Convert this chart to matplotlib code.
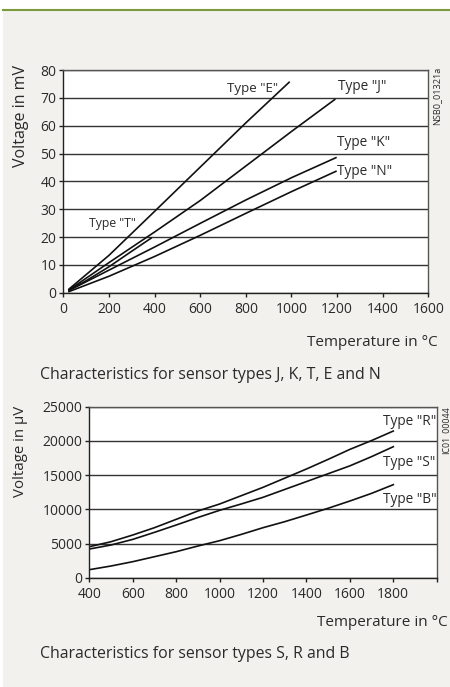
import matplotlib.pyplot as plt
from matplotlib.patches import Rectangle
from matplotlib.lines import Line2D

plt.rcParams['font.family'] = ['Open Sans', 'DejaVu Sans']

# Thermoelement-Kennlinien (Typen J, K, T, E, N) in mV
temp_E = [25, 200, 400, 600, 800, 990]
volt_E = [1.3, 13.4, 29.2, 45.1, 61.0, 75.6]
temp_J = [25, 200, 400, 600, 800, 1000, 1190]
volt_J = [1.0, 10.8, 21.8, 33.1, 45.5, 57.9, 69.4]
temp_K = [25, 200, 400, 600, 800, 1000, 1195]
volt_K = [0.8, 8.1, 16.4, 24.9, 33.3, 41.3, 48.5]
temp_N = [25, 200, 400, 600, 800, 1000, 1195]
volt_N = [0.4, 5.9, 13.0, 20.6, 28.5, 36.3, 43.6]
temp_T = [25, 100, 200, 300, 385]
volt_T = [0.9, 4.3, 9.3, 14.9, 19.6]

# Typen R, S, B in uV
temp_RSB = [400, 500, 600, 700, 800, 900, 1000, 1100, 1200,
            1300, 1400, 1500, 1600, 1700, 1800]
volt_R = [4530, 5260, 6240, 7310, 8530, 9750, 10770, 11990, 13210,
          14550, 15890, 17300, 18760, 20050, 21440]
volt_S = [4190, 4780, 5600, 6630, 7700, 8800, 9850, 10780, 11750,
          12900, 14050, 15200, 16350, 17700, 19150]
volt_B = [1170, 1710, 2340, 3070, 3800, 4630, 5410, 6330, 7310,
          8190, 9160, 10150, 11210, 12330, 13600]

bg = '#f2f1ed'
txt = '#2a2a2a'
W, H = 450, 687

fig = plt.figure(figsize=(4.5, 6.87), dpi=100, facecolor='white')
fig.patches.append(Rectangle((3 / W, 0), 1, 1 - 11 / H, transform=fig.transFigure,
                             facecolor=bg, edgecolor='none', zorder=-10))
fig.lines.append(Line2D([3 / W, 1], [1 - 9.5 / H, 1 - 9.5 / H], transform=fig.transFigure,
                        color='#7b9a3c', lw=1.5, zorder=-5))


def box(l, t, r, b):
    # Pixelkoordinaten -> Figure-Anteile
    return [l / W, 1 - b / H, (r - l) / W, (b - t) / H]


def style(ax):
    ax.set_facecolor('white')
    for s in ax.spines.values():
        s.set_color('#555555')
        s.set_linewidth(1.0)
    ax.spines['left'].set_color('#222222')
    ax.spines['bottom'].set_color('#222222')
    ax.tick_params(direction='out', length=3, width=1, color='#222222',
                   labelsize=10, labelcolor=txt, pad=2)
    ax.tick_params(axis='x', pad=3.5)
    ax.yaxis.grid(True, color='#333333', lw=1.0)
    ax.set_axisbelow(True)


# --- oberes Diagramm ---
ax1 = fig.add_axes(box(63.3, 70, 428.3, 292.7))
style(ax1)
lc = '#111111'
ax1.plot(temp_E, volt_E, color=lc, lw=1.2)
ax1.plot(temp_J, volt_J, color=lc, lw=1.2)
ax1.plot(temp_K, volt_K, color=lc, lw=1.2)
ax1.plot(temp_N, volt_N, color=lc, lw=1.2)
ax1.plot(temp_T, volt_T, color=lc, lw=1.2)
ax1.set_xlim(0, 1600)
ax1.set_ylim(0, 80)
ax1.set_xticks(range(0, 1601, 200))
ax1.set_yticks(range(0, 81, 10))
ax1.text(829, 73.5, 'Type "E"', ha='center', va='center', fontsize=9.6, color=txt)
ax1.text(1204, 74.0, 'Type "J"', ha='left', va='center', fontsize=9.8, color=txt)
ax1.text(1200, 53.8, 'Type "K"', ha='left', va='center', fontsize=9.8, color=txt)
ax1.text(1200, 43.4, 'Type "N"', ha='left', va='center', fontsize=9.8, color=txt)
ax1.text(113, 25.0, 'Type "T"', ha='left', va='center', fontsize=8.8, color=txt)

fig.text(21 / W, 1 - 116 / H, 'Voltage in mV', rotation=90, ha='center', va='center',
         fontsize=11.5, color=txt)
fig.text(437 / W, 1 - 96 / H, 'NSB0_01321a', rotation=90, ha='center', va='center',
         fontsize=6.6, color=txt)
fig.text(438 / W, 1 - 342 / H, 'Temperature in °C', ha='right', va='center',
         fontsize=11, color=txt)
fig.text(40 / W, 1 - 375 / H, 'Characteristics for sensor types J, K, T, E and N',
         ha='left', va='center', fontsize=11.4, color=txt)

# --- unteres Diagramm ---
ax2 = fig.add_axes(box(89.3, 406.7, 436.7, 577.7))
style(ax2)
ax2.plot(temp_RSB, volt_R, color=lc, lw=1.2)
ax2.plot(temp_RSB, volt_S, color=lc, lw=1.2)
ax2.plot(temp_RSB, volt_B, color=lc, lw=1.2)
ax2.set_xlim(400, 2000)
ax2.set_ylim(0, 25000)
ax2.set_xticks(range(400, 2001, 200))
ax2.set_xticklabels([str(t) for t in range(400, 1801, 200)] + [''])
ax2.set_yticks(range(0, 25001, 5000))
ax2.text(1752, 22900, 'Type "R"', ha='left', va='center', fontsize=9.8, color=txt)
ax2.text(1752, 16870, 'Type "S"', ha='left', va='center', fontsize=9.8, color=txt)
ax2.text(1752, 11360, 'Type "B"', ha='left', va='center', fontsize=9.8, color=txt)

fig.text(21 / W, 1 - 451 / H, 'Voltage in µV', rotation=90, ha='center', va='center',
         fontsize=10.8, color=txt)
fig.text(446 / W, 1 - 430 / H, 'IC01_00044', rotation=90, ha='center', va='center',
         fontsize=6.4, color=txt)
fig.text(448 / W, 1 - 623 / H, 'Temperature in °C', ha='right', va='center',
         fontsize=11, color=txt)
fig.text(40 / W, 1 - 654 / H, 'Characteristics for sensor types S, R and B',
         ha='left', va='center', fontsize=11.4, color=txt)

fig.savefig('out.png', dpi=100, facecolor=fig.get_facecolor())
